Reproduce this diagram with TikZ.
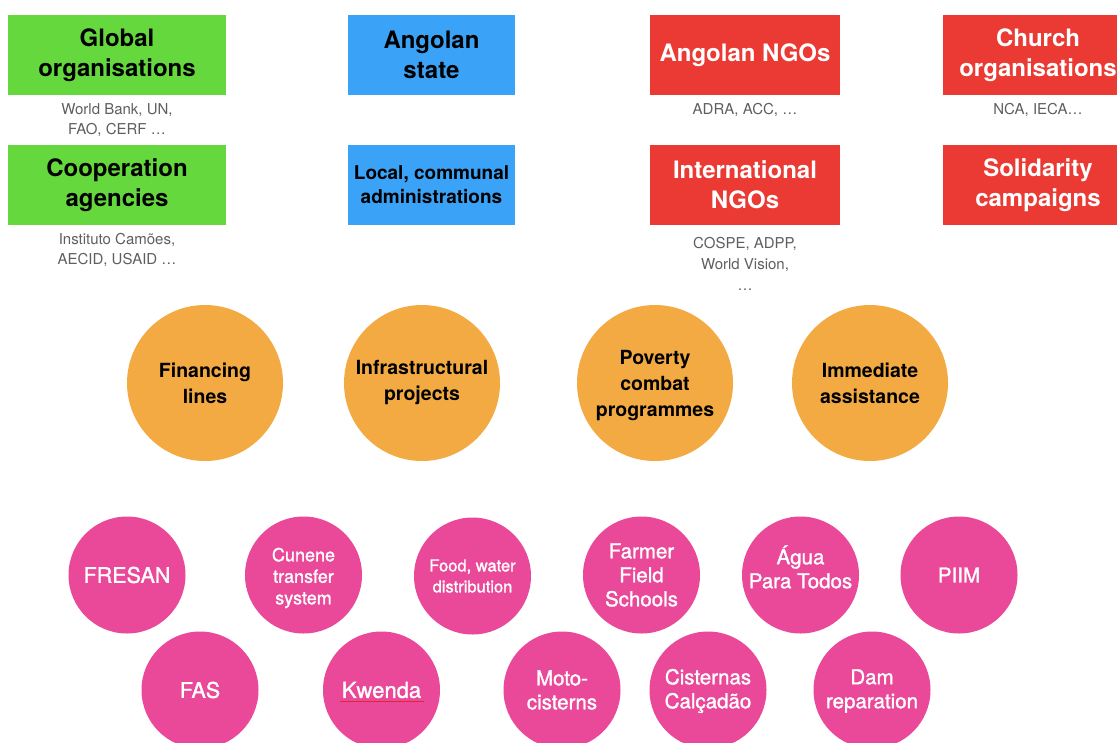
\documentclass[tikz,border=0pt]{standalone}
\usepackage{fontspec}
\setmainfont{TeX Gyre Heros}
\newfontfamily\pinkfont[FakeBold=1.4]{TeX Gyre Heros}
\definecolor{agreen}{RGB}{100,216,60}
\definecolor{ablue}{RGB}{58,162,247}
\definecolor{ared}{RGB}{235,58,52}
\definecolor{aorange}{RGB}{243,170,66}
\definecolor{apink}{RGB}{234,72,152}
\definecolor{capgray}{RGB}{95,95,95}
\definecolor{squiggle}{RGB}{225,40,50}
\begin{document}
\begin{tikzpicture}[x=1pt,y=-1pt,
  box/.style={rectangle, inner sep=0pt, minimum height=80pt, align=center,
    font=\fontsize{24}{30}\selectfont\bfseries},
  gbox/.style={box, fill=agreen, text=black, minimum width=218pt},
  sbox/.style={box, fill=ablue, text=black, minimum width=167pt},
  rbox/.style={box, fill=ared, text=white, minimum width=190pt},
  captxt/.style={align=center, text=capgray, inner sep=0pt,
    font=\fontsize{15}{19.5}\selectfont},
  ocirc/.style={circle, fill=aorange, text=black, minimum size=156pt, inner sep=0pt,
    align=center, font=\fontsize{19.5}{26}\selectfont\bfseries},
  otxt/.style={inner sep=0pt, text=black, align=center, font=\fontsize{19.5}{26}\selectfont\bfseries},
  pcirc/.style={circle, fill=apink, text=white, minimum size=117pt, inner sep=0pt,
    align=center, font=\pinkfont\fontsize{20.5}{24}\selectfont},
  ptxt/.style={inner sep=0pt, text=white, align=center, font=\pinkfont\fontsize{20.5}{24}\selectfont},
]
\useasboundingbox (0,0) rectangle (1117,742);
\clip (0,0) rectangle (1117,742);
\fill[white] (0,0) rectangle (1117,742);

% boxes
\node[gbox] (global) at (117,55) {Global\\organisations};
\node[gbox] (coop) at (117,185) {Cooperation\\agencies};
\node[sbox] (state) at (431.5,55) {Angolan\\state};
\node[sbox, font=\fontsize{19}{24}\selectfont\bfseries] (local) at (431.5,185) {Local, communal\\administrations};
\node[rbox] (angngo) at (745,55) {Angolan NGOs};
\node[rbox] (intngo) at (745,185) {International\\NGOs};
\node[rbox] (church) at (1038,55) {Church\\organisations};
\node[rbox] (solid) at (1038,185) {Solidarity\\campaigns};

% captions
\node[captxt] (capglobal) at (117,120) {World Bank, UN,\\FAO, CERF …};
\node[captxt] (capcoop) at (117,250) {Instituto Camões,\\AECID, USAID …};
\node[captxt] (capangngo) at (745,110) {ADRA, ACC, …};
\node[captxt] (capchurch) at (1038,110) {NCA, IECA…};
\node[captxt, font=\fontsize{15}{21}\selectfont] (capintngo) at (745,264) {COSPE, ADPP,\\World Vision,\\…};

% orange circles
\node[ocirc] (fin) at (205,383) {Financing\\lines};
\node[ocirc] (infra) at (422,383) {Infrastructural\\projects};
\node[ocirc] (pov) at (655,383) {};
\node[otxt] (povtxt) at ([yshift=-3pt]pov.center) {Poverty\\combat\\programmes};
\node[ocirc] (imm) at (870,383) {Immediate\\assistance};

% pink circles, first row
\node[pcirc, font=\pinkfont\fontsize{21.5}{24}\selectfont] (fresan) at (127,575) {FRESAN};
\node[pcirc] (cunene) at (303.5,575) {};
\node[ptxt, font=\pinkfont\fontsize{18}{21.5}\selectfont] (cunenetxt) at ([yshift=-3pt]cunene.center) {Cunene\\transfer\\system};
\node[pcirc, font=\pinkfont\fontsize{16.5}{21}\selectfont] (food) at (472.5,576) {Food, water\\distribution};
\node[pcirc] (farmer) at (641.5,575) {Farmer\\Field\\Schools};
\node[pcirc] (agua) at (800.5,575) {};
\node[ptxt] (aguatxt) at ([yshift=8pt]agua.center) {Água\\Para Todos};
\node[pcirc] (piim) at (959,575) {PIIM};

% pink circles, second row
\node[pcirc, font=\pinkfont\fontsize{21.5}{24}\selectfont] (fas) at (200,690) {FAS};
\node[pcirc, font=\pinkfont\fontsize{22}{24}\selectfont] (kwenda) at (381.5,690) {Kwenda};
\node[pcirc] (moto) at (562,690) {Moto-\\cisterns};
\node[pcirc] (cist) at (708,690) {};
\node[ptxt] (cisttxt) at ([yshift=-1pt]cist.center) {Cisternas\\Calçadão};
\node[pcirc] (dam) at (872,690) {};
\node[ptxt] (damtxt) at ([yshift=-1pt]dam.center) {Dam\\reparation};
\draw[squiggle, line width=0.6pt] ([xshift=-42pt,yshift=-11.5pt]kwenda.center) -- ([xshift=42pt,yshift=-11.5pt]kwenda.center);
\end{tikzpicture}
\end{document}
